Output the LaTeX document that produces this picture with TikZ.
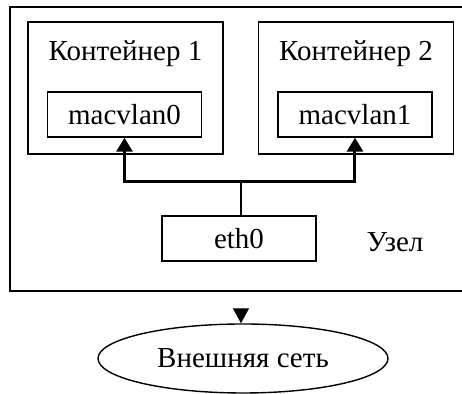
\documentclass[tikz,border=0pt]{standalone}
\usepackage{fontspec}
\setmainfont{Liberation Serif}
\usetikzlibrary{arrows.meta,positioning,shapes.geometric}

\begin{document}
\begin{tikzpicture}[
    x=0.5pt, y=-0.5pt,
    font=\fontsize{14.5}{16}\selectfont,
    base/.style={rectangle, draw=black, line width=0.8pt, inner sep=0pt},
    host/.style={base, minimum width=230pt, minimum height=142pt},
    cont/.style={base, minimum width=97.5pt, minimum height=66pt},
    iface/.style={base, line width=0.7pt, minimum width=77pt, minimum height=22.5pt},
    net/.style={ellipse, draw=black, line width=0.7pt, minimum width=145pt, minimum height=34.5pt, inner sep=0pt},
    link/.style={black, line width=1.5pt, -{Triangle[width=8pt,length=7pt]}},
    wire/.style={black, line width=0.7pt}
  ]
  \useasboundingbox (0,0) rectangle (462,394);

  \node (host)  [host] at (240,149) {};
  \node (hostlabel) at (395,242) {Узел};

  \node (cont1) [cont, label={[anchor=north, yshift=-6pt]north:Контейнер 1}] at (125.5,88) {};
  \node (cont2) [cont, label={[anchor=north, yshift=-6pt]north:Контейнер 2}] at (356,88) {};

  \node (mac0)  [iface] at (124.5,114.5) {macvlan0};
  \node (mac1)  [iface] at (355,114.5)   {macvlan1};

  \node (eth0)  [iface] at (239,238.5)   {eth0};

  \node (ext)   [net] at (243,358.5)     {Внешняя сеть};

  \coordinate (split) at (241,182);

  \draw[wire]  (eth0.north -| split) -- (split);
  \draw[link]  (split) -| (mac0.south);
  \draw[link]  (split) -| (mac1.south);

  \draw[white, line width=0.7pt, -{Triangle[black,width=8pt,length=7.5pt]}]
               (host.south -| split) -- (ext.north -| split);
\end{tikzpicture}
\end{document}
